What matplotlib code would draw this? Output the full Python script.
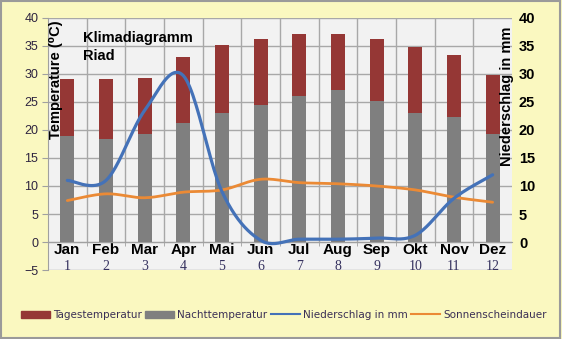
import numpy as np
import matplotlib.pyplot as plt
from matplotlib.patches import Rectangle, Patch
from matplotlib.lines import Line2D

plt.rcParams['font.family'] = ['Liberation Sans', 'DejaVu Sans']

# =====================================================
# DATA
# =====================================================
months = ['Jan', 'Feb', 'Mar', 'Apr', 'Mai', 'Jun',
          'Jul', 'Aug', 'Sep', 'Okt', 'Nov', 'Dez']
month_nums = ['1', '2', '3', '4', '5', '6', '7', '8', '9', '10', '11', '12']
tagestemp = [29.1, 29.1, 29.3, 33.1, 35.1, 36.3, 37.1, 37.1, 36.3, 34.9, 33.3, 29.9]
nachttemp = [19.0, 18.4, 19.2, 21.3, 23.1, 24.4, 26.0, 27.1, 25.2, 23.1, 22.3, 19.2]
niederschlag = [11.0, 11.0, 23.5, 29.7, 9.0, 0.3, 0.5, 0.5, 0.7, 1.2, 7.8, 12.0]
sonne = [7.4, 8.6, 7.9, 8.9, 9.3, 11.2, 10.6, 10.4, 10.0, 9.3, 8.0, 7.1]

RED = '#953735'
GRAY = '#7F7F7F'
BLUE = '#4472B8'
ORANGE = '#EB8A35'
YELLOW = '#FAF8C0'


def smooth_line(x, y, n=25):
    # Excel-style smoothed line (Catmull-Rom as cubic Bezier)
    x = np.asarray(x, float)
    y = np.asarray(y, float)
    px = np.concatenate([[x[0]], x, [x[-1]]])
    py = np.concatenate([[y[0]], y, [y[-1]]])
    t = np.linspace(0, 1, n)
    xs, ys = [], []
    for i in range(1, len(px) - 2):
        p0 = np.array([px[i], py[i]])
        p3 = np.array([px[i + 1], py[i + 1]])
        p1 = p0 + (np.array([px[i + 1], py[i + 1]]) - np.array([px[i - 1], py[i - 1]])) / 6
        p2 = p3 - (np.array([px[i + 2], py[i + 2]]) - p0) / 6
        b = ((1 - t) ** 3)[:, None] * p0 + (3 * (1 - t) ** 2 * t)[:, None] * p1 \
            + (3 * (1 - t) * t ** 2)[:, None] * p2 + (t ** 3)[:, None] * p3
        xs.extend(b[:, 0])
        ys.extend(b[:, 1])
    return xs, ys


fig = plt.figure(figsize=(5.62, 3.39), dpi=100, facecolor=YELLOW)
fig.patches.append(Rectangle((0.002, 0.003), 0.995, 0.994, transform=fig.transFigure,
                             fill=False, edgecolor='#9A9A9A', lw=1.5))

ax = fig.add_axes([0.0854, 0.2035, 0.8256, 0.7435])
ax.set_facecolor('#F2F2F2')
ax.set_xlim(-0.5, 11.5)
ax.set_ylim(-5, 40)

x = np.arange(len(months))

# bars: day temperature behind, night temperature in front
ax.bar(x, tagestemp, width=0.36, color=RED, zorder=2)
ax.bar(x, nachttemp, width=0.36, color=GRAY, zorder=3)

# gridlines
ax.set_yticks(range(-5, 41, 5))
ax.yaxis.grid(True, color='#A8A8A8', lw=1.0)
ax.set_axisbelow(True)
ax.vlines(np.arange(0.5, 11.5, 1), 0, 40, color='#A8A8A8', lw=1.0, zorder=1)

for s in ['top', 'right']:
    ax.spines[s].set_visible(False)
ax.spines['left'].set_color('#A0A0A0')
ax.spines['bottom'].set_position(('data', 0))
ax.spines['bottom'].set_color('#A0A0A0')

ax.tick_params(axis='y', direction='out', length=4, color='#A0A0A0',
               labelsize=9, labelcolor='#2E2440', pad=3)
ax.set_xticks(x)
ax.set_xticklabels(months, fontweight='bold', fontsize=11)
ax.tick_params(axis='x', which='major', length=0, pad=1)
ax.set_xticks(np.arange(0.5, 11.5, 1), minor=True)
ax.tick_params(axis='x', which='minor', direction='out', length=3, color='#A0A0A0')

for i, num in enumerate(month_nums):
    ax.text(i, -4.3, num, ha='center', va='center', fontsize=10,
            color='#34305E', family=['Liberation Serif'])

# texts inside plot area
ax.text(0.075, 0.948, 'Klimadiagramm\nRiad', transform=ax.transAxes,
        ha='left', va='top', fontsize=10.5, fontweight='bold', linespacing=1.35)
ax.text(0.018, 0.99, 'Temperature (\u2070C)', transform=ax.transAxes, rotation=90,
        ha='center', va='top', fontsize=10.5, fontweight='bold')

# secondary axis
ax2 = ax.twinx()
ax2.set_ylim(-5, 40)
ax2.set_yticks(range(0, 41, 5))
ax2.tick_params(axis='y', length=0, labelsize=10.5, pad=5)
for lab in ax2.get_yticklabels():
    lab.set_fontweight('bold')
for s in ax2.spines.values():
    s.set_visible(False)
ax2.text(0.989, 0.965, 'Niederschlag in mm', transform=ax2.transAxes, rotation=90,
         ha='center', va='top', fontsize=10.5, fontweight='bold')

sx, sy = smooth_line(x, niederschlag)
ax2.plot(sx, sy, color=BLUE, lw=2.3, solid_capstyle='round', zorder=5)
sx, sy = smooth_line(x, sonne)
ax2.plot(sx, sy, color=ORANGE, lw=2.0, solid_capstyle='round', zorder=4)

handles = [Patch(color=RED), Patch(color=GRAY),
           Line2D([], [], color=BLUE, lw=1.5), Line2D([], [], color=ORANGE, lw=1.5)]
labels = ['Tagestemperatur', 'Nachttemperatur', 'Niederschlag in mm', 'Sonnenscheindauer']
leg = fig.legend(handles, labels, loc='center', bbox_to_anchor=(0.505, 0.071), ncol=4,
                 frameon=False, prop={'family': 'DejaVu Sans', 'size': 7.5},
                 handlelength=2.8, handleheight=0.6, handletextpad=0.3, columnspacing=0.3)
for t in leg.get_texts():
    t.set_color('#3A2F55')

fig.savefig('out.png', dpi=100, facecolor=YELLOW)
